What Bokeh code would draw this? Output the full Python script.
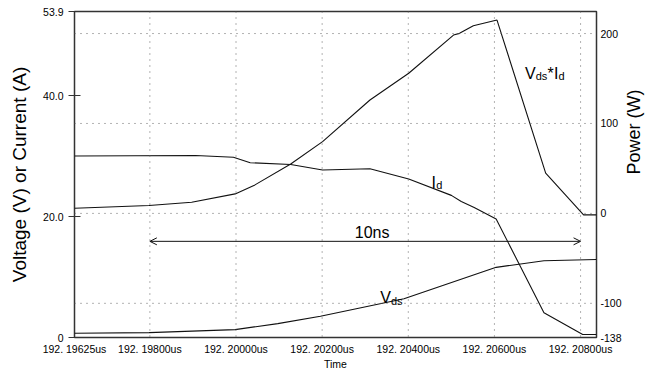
import math
from bokeh.plotting import figure
from bokeh.models import Range1d, LinearAxis, FixedTicker, Span, Arrow, OpenHead, Label
from bokeh.embed import file_html
from bokeh.resources import INLINE

FONT = "Liberation Sans"

# time axis: ns after 192.19600us
x_ticks = [0.25, 2.0, 4.0, 6.0, 8.0, 10.0, 12.0]
x_tick_labels = ["192. 19625us", "192. 19800us", "192. 20000us", "192. 20200us",
                 "192. 20400us", "192. 20600us", "192. 20800us"]
left_ticks = [0.0, 20.0, 40.0, 53.9]
left_tick_labels = ["0", "20.0", "40.0", "53.9"]
right_ticks = [-138.0, -100.0, 0.0, 100.0, 200.0]
right_tick_labels = ["-138", "-100", "0", "100", "200"]
right_grid_ticks = [-100.0, 0.0, 100.0, 200.0]

# I_d (A)
time_id = [0.25, 3.06, 3.94, 4.33, 5.27, 6.01, 7.11, 8.01, 9.00, 9.23, 9.53, 10.04, 11.15, 12.05, 12.37]
id_vals = [30.0, 30.1, 29.8, 28.9, 28.6, 27.7, 27.9, 26.2, 23.5, 22.5, 21.5, 19.6, 4.1, 0.5, 0.5]

# V_ds (V)
time_vds = [0.25, 1.98, 3.98, 4.97, 5.96, 7.90, 10.04, 11.15, 12.37]
vds_vals = [0.7, 0.8, 1.3, 2.3, 3.5, 6.4, 11.6, 12.7, 12.9]

# V_ds*I_d (W)
time_p = [0.25, 1.98, 2.97, 3.98, 4.44, 5.27, 6.01, 7.11, 8.01, 9.05, 9.19, 9.51, 10.06, 11.19, 12.07, 12.37]
p_vals = [5.8, 8.7, 12.4, 21.7, 31.7, 55.0, 79.8, 126.1, 155.8, 198.3, 200.2, 208.7, 215.0, 44.7, -1.7, -1.7]

# 10 ns marker
arrow_t = [2.0, 12.0]
arrow_level = 15.9

p = figure(width=656, height=372, output_backend="svg", toolbar_location=None,
           x_range=Range1d(0.25, 12.37), y_range=Range1d(0, 53.9),
           min_border_left=74, min_border_right=55, min_border_top=11, min_border_bottom=33)
p.extra_y_ranges = {"power": Range1d(-138, 224.5)}
p.xgrid.visible = False
p.ygrid.visible = False
p.outline_line_color = "#333333"
p.outline_line_width = 1.5
p.background_fill_color = "white"
p.border_fill_color = "white"

xa = p.xaxis[0]
xa.ticker = FixedTicker(ticks=x_ticks)
xa.major_label_overrides = dict(zip(x_ticks, x_tick_labels))
xa.axis_label = "Time"
xa.axis_line_color = None
xa.major_tick_in = 0
xa.major_tick_out = 0
xa.minor_tick_line_color = None
xa.major_label_standoff = 5
xa.axis_label_standoff = 0
xa.major_label_text_font = FONT
xa.major_label_text_font_size = "10.5px"
xa.major_label_text_color = "black"
xa.axis_label_text_font = FONT
xa.axis_label_text_font_size = "10.5px"
xa.axis_label_text_font_style = "normal"
xa.axis_label_text_color = "black"

ya = p.yaxis[0]
ya.ticker = FixedTicker(ticks=left_ticks)
ya.major_label_overrides = dict(zip(left_ticks, left_tick_labels))
ya.axis_label = "Voltage (V) or Current (A)"
ya.axis_line_color = None
ya.major_tick_in = 6
ya.major_tick_out = 6
ya.major_tick_line_color = "#333333"
ya.minor_tick_line_color = None
ya.major_label_standoff = 5
ya.axis_label_standoff = 10
ya.major_label_text_font = FONT
ya.major_label_text_font_size = "10.5px"
ya.major_label_text_color = "black"
ya.axis_label_text_font = FONT
ya.axis_label_text_font_size = "19px"
ya.axis_label_text_font_style = "normal"
ya.axis_label_text_color = "black"

ra = LinearAxis(y_range_name="power", axis_label="Power (W)")
ra.ticker = FixedTicker(ticks=right_ticks)
ra.major_label_overrides = dict(zip(right_ticks, right_tick_labels))
ra.axis_line_color = None
ra.major_tick_in = 0
ra.major_tick_out = 0
ra.minor_tick_line_color = None
ra.major_label_standoff = 4
ra.axis_label_standoff = 9
ra.axis_label_orientation = math.pi / 2
ra.major_label_text_font = FONT
ra.major_label_text_font_size = "10.5px"
ra.major_label_text_color = "black"
ra.axis_label_text_font = FONT
ra.axis_label_text_font_size = "18px"
ra.axis_label_text_font_style = "normal"
ra.axis_label_text_color = "black"
p.add_layout(ra, "right")

grid_style = dict(line_color="#666666", line_dash="1 5", line_width=1)
for t in x_ticks[1:]:
    p.add_layout(Span(location=t, dimension="height", **grid_style))
for w in right_grid_ticks:
    p.add_layout(Span(location=w, dimension="width", y_range_name="power", **grid_style))

lc = "#111111"
p.line(time_id, id_vals, line_color=lc, line_width=1.1)
p.line(time_vds, vds_vals, line_color=lc, line_width=1.1)
p.line(time_p, p_vals, line_color=lc, line_width=1.1, y_range_name="power")

p.add_layout(Arrow(x_start=arrow_t[0], x_end=arrow_t[1], y_start=arrow_level, y_end=arrow_level,
                   start=OpenHead(size=7, line_width=1, line_color=lc),
                   end=OpenHead(size=7, line_width=1, line_color=lc),
                   line_width=1, line_color=lc))


def lab(x, y, text, size, dx=0, dy=0, align="left", baseline="alphabetic"):
    p.add_layout(Label(x=x, y=y, x_offset=dx, y_offset=dy, text=text, text_font=FONT,
                       text_font_size=size, text_color="black", text_align=align,
                       text_baseline=baseline))


lab(7.16, 17.4, "10ns", "16px", align="center", baseline="middle")
# V_ds*I_d
lab(10.71, 43.65, "V", "16px")
lab(10.71, 43.65, "ds", "11px", dx=10.7, dy=-3)
lab(10.71, 43.65, "*", "16px", dx=22.5)
lab(10.71, 43.65, "I", "16px", dx=29)
lab(10.71, 43.65, "d", "11px", dx=33.5, dy=-3)
# I_d
lab(8.54, 25.63, "I", "16px")
lab(8.54, 25.63, "d", "11px", dx=4.6, dy=-3)
# V_ds
lab(7.35, 6.61, "V", "16px")
lab(7.35, 6.61, "ds", "11px", dx=10.7, dy=-3)

open("out.html", "w").write(file_html(p, INLINE))
